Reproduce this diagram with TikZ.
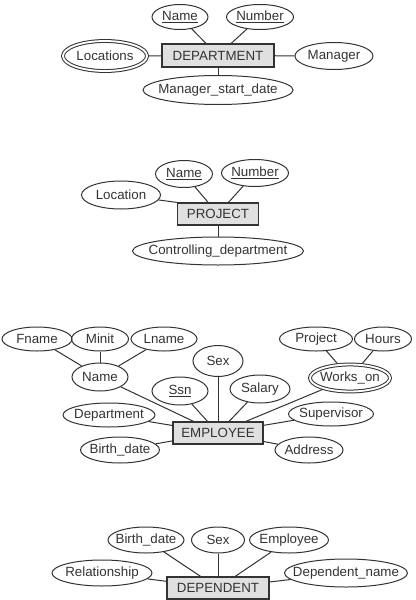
\documentclass[tikz,border=0pt]{standalone}
\usepackage{fontspec}
\setmainfont{Liberation Sans}
\usepackage{tikz}
\usetikzlibrary{shapes.geometric}
\tikzset{
  entitybox/.style={draw=black!80, fill=black!12, line width=0.9pt, inner sep=0pt, text=black!80, font=\normalsize},
  attrnode/.style={draw=black!80, ellipse, line width=0.75pt, inner xsep=-40pt, inner ysep=-10pt, text=black!80, font=\normalsize},
  multiattr/.style={attrnode, double, double distance=1.4pt},
  erline/.style={draw=black!80, line width=0.75pt}
}

\begin{document}
\begin{tikzpicture}[x=0.75pt, y=-0.75pt]
  \useasboundingbox (0,0) rectangle (415,600);
  \node[entitybox, minimum width=84pt, minimum height=17.25pt] (dept) at (218,55.5) {DEPARTMENT};
  \node[attrnode, minimum width=42pt, minimum height=18.75pt] (dname) at (180,17) {\underline{Name}};
  \node[attrnode, minimum width=50.25pt, minimum height=18.75pt] (dnumber) at (260,17) {\underline{Number}};
  \node[multiattr, minimum width=63pt, minimum height=22.5pt] (dloc) at (105,56) {Locations};
  \node[attrnode, minimum width=58.5pt, minimum height=20.25pt] (dmgr) at (334,56) {Manager};
  \node[attrnode, minimum width=112.5pt, minimum height=21.75pt] (dmsd) at (218,90) {Manager\_start\_date};
  \draw[erline] (dname) -- (dept);
  \draw[erline] (dnumber) -- (dept);
  \draw[erline, shorten <=1.2pt] (dloc) -- (dept);
  \draw[erline] (dmgr) -- (dept);
  \draw[erline] (dmsd) -- (dept);

  \node[entitybox, minimum width=60.75pt, minimum height=16.5pt] (proj) at (218,214) {PROJECT};
  \node[attrnode, minimum width=42.75pt, minimum height=20.25pt] (pname) at (184,174) {\underline{Name}};
  \node[attrnode, minimum width=50.25pt, minimum height=20.25pt] (pnumber) at (255,173) {\underline{Number}};
  \node[attrnode, minimum width=59.25pt, minimum height=21pt] (ploc) at (121,195) {Location};
  \node[attrnode, minimum width=128.25pt, minimum height=21pt] (pcd) at (218,251) {Controlling\_department};
  \draw[erline] (pname) -- (proj);
  \draw[erline] (pnumber) -- (proj);
  \draw[erline] (ploc) -- (proj.north west);
  \draw[erline] (pcd) -- (proj);

  \node[entitybox, minimum width=67.5pt, minimum height=16.5pt] (emp) at (218,433) {EMPLOYEE};
  \node[attrnode, minimum width=52.5pt, minimum height=18pt] (fname) at (37,339) {Fname};
  \node[attrnode, minimum width=42.75pt, minimum height=18pt] (minit) at (100,339) {Minit};
  \node[attrnode, minimum width=49.5pt, minimum height=18pt] (lname) at (164,339) {Lname};
  \node[attrnode, minimum width=54.75pt, minimum height=18pt] (wproj) at (316,339) {Project};
  \node[attrnode, minimum width=42.75pt, minimum height=18pt] (whours) at (383,339) {Hours};
  \node[attrnode, minimum width=42pt, minimum height=21pt] (ename) at (100,377) {Name};
  \node[attrnode, minimum width=37.5pt, minimum height=23.25pt] (esex) at (218,361) {Sex};
  \node[attrnode, minimum width=42pt, minimum height=21pt] (essn) at (180,391) {\underline{Ssn}};
  \node[attrnode, minimum width=45pt, minimum height=21pt] (esalary) at (260,389) {Salary};
  \node[multiattr, minimum width=60pt, minimum height=20.25pt] (eworks) at (350,378) {Works\_on};
  \node[attrnode, minimum width=69pt, minimum height=18pt] (edept) at (109,415) {Department};
  \node[attrnode, minimum width=63.75pt, minimum height=18pt] (esuper) at (331,414) {Supervisor};
  \node[attrnode, minimum width=59.25pt, minimum height=19.5pt] (ebirth) at (120,450) {Birth\_date};
  \node[attrnode, minimum width=51pt, minimum height=19.5pt] (eaddr) at (309,450) {Address};
  \draw[erline] (fname) -- (ename);
  \draw[erline] (minit) -- (ename);
  \draw[erline] (lname) -- (ename);
  \draw[erline, shorten >=1.2pt] (wproj) -- (eworks);
  \draw[erline, shorten >=1.2pt] (whours) -- (eworks);
  \draw[erline] (ename) -- (emp);
  \draw[erline] (esex) -- (emp);
  \draw[erline] (essn) -- (emp);
  \draw[erline] (esalary) -- (emp);
  \draw[erline, shorten <=1.2pt] (eworks) -- (emp);
  \draw[erline] (edept) -- (emp);
  \draw[erline] (esuper) -- (emp);
  \draw[erline] (ebirth) -- (emp);
  \draw[erline] (eaddr) -- (emp);

  \node[entitybox, minimum width=76.5pt, minimum height=16.5pt] (dep) at (218,588) {DEPENDENT};
  \node[attrnode, minimum width=57pt, minimum height=19.5pt] (dbirth) at (146,540) {Birth\_date};
  \node[attrnode, minimum width=39.75pt, minimum height=19.5pt] (dsex) at (218,540) {Sex};
  \node[attrnode, minimum width=59.25pt, minimum height=19.5pt] (demp) at (289,540) {Employee};
  \node[attrnode, minimum width=75pt, minimum height=19.5pt] (drel) at (102,573) {Relationship};
  \node[attrnode, minimum width=92.25pt, minimum height=21pt] (ddname) at (346,573) {Dependent\_name};
  \draw[erline] (dbirth) -- (dep);
  \draw[erline] (dsex) -- (dep);
  \draw[erline] (demp) -- (dep);
  \draw[erline] (drel) -- (dep);
  \draw[erline] (ddname) -- (dep);
\end{tikzpicture}
\end{document}
